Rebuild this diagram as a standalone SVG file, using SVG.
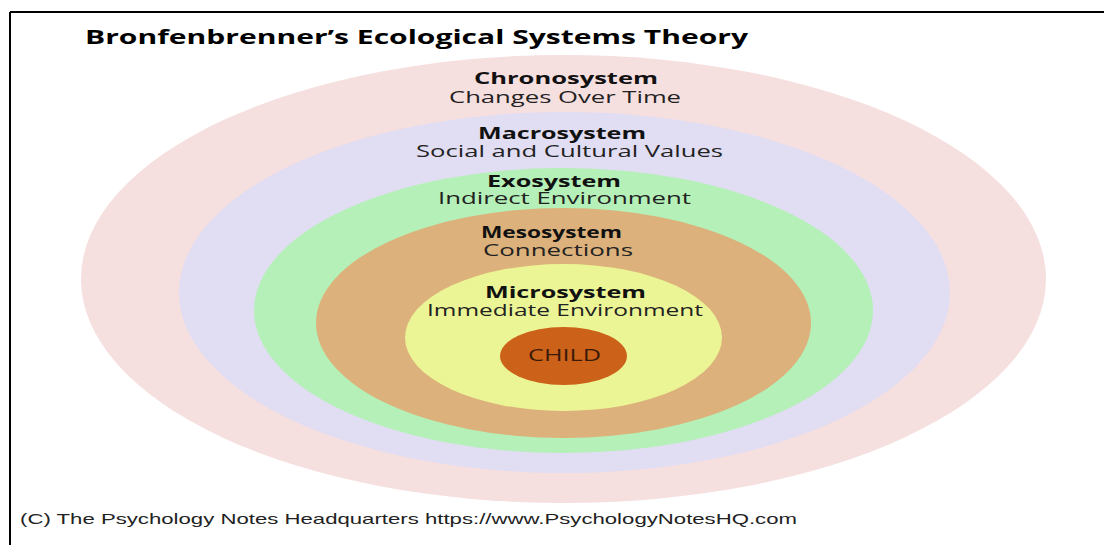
<svg xmlns="http://www.w3.org/2000/svg" width="1104" height="545" viewBox="0 0 1104 545">
  <style>
    .h { font-family: "Open Sans", "Liberation Sans", sans-serif; font-weight: 700; font-size: 16px; fill: #111; }
    .s { font-family: "Open Sans", "Liberation Sans", sans-serif; font-weight: 400; font-size: 16px; fill: #222; }
    .title { font-family: "Open Sans", "Liberation Sans", sans-serif; font-weight: 700; font-size: 20px; fill: #000; }
    .foot { font-family: "Liberation Sans", Arial, sans-serif; font-size: 15px; fill: #222; }
  </style>
  <rect x="0" y="0" width="1104" height="545" fill="#ffffff"/>
  <line x1="10" y1="12" x2="1104" y2="12" stroke="#000" stroke-width="2"/>
  <line x1="10" y1="12" x2="10" y2="545" stroke="#000" stroke-width="2"/>
  <text class="title" x="85" y="44" textLength="663" lengthAdjust="spacingAndGlyphs">Bronfenbrenner’s Ecological Systems Theory</text>

  <g id="chronosystem">
    <ellipse cx="563.5" cy="279" rx="482.5" ry="224" fill="#f6dfdf"/>
    <text class="h" x="474" y="84" textLength="184" lengthAdjust="spacingAndGlyphs">Chronosystem</text>
    <text class="s" x="449" y="103" textLength="232" lengthAdjust="spacingAndGlyphs">Changes Over Time</text>
  </g>
  <g id="macrosystem">
    <ellipse cx="564.5" cy="292.5" rx="385.5" ry="180.5" fill="#e1ddf2"/>
    <text class="h" x="478" y="139" textLength="168" lengthAdjust="spacingAndGlyphs">Macrosystem</text>
    <text class="s" x="416" y="157" textLength="307" lengthAdjust="spacingAndGlyphs">Social and Cultural Values</text>
  </g>
  <g id="exosystem">
    <ellipse cx="563.5" cy="310.5" rx="309.5" ry="142.5" fill="#b4f0b7"/>
    <text class="h" x="487" y="187" textLength="134" lengthAdjust="spacingAndGlyphs">Exosystem</text>
    <text class="s" x="438" y="204" textLength="253" lengthAdjust="spacingAndGlyphs">Indirect Environment</text>
  </g>
  <g id="mesosystem">
    <ellipse cx="563.5" cy="323" rx="247.5" ry="115" fill="#dcb17b"/>
    <text class="h" x="481" y="238" textLength="141" lengthAdjust="spacingAndGlyphs">Mesosystem</text>
    <text class="s" x="483" y="256" textLength="150" lengthAdjust="spacingAndGlyphs">Connections</text>
  </g>
  <g id="microsystem">
    <ellipse cx="563.5" cy="337.5" rx="158.5" ry="73.5" fill="#ecf595"/>
    <text class="h" x="485" y="298" textLength="161" lengthAdjust="spacingAndGlyphs">Microsystem</text>
    <text class="s" x="427" y="316" textLength="276" lengthAdjust="spacingAndGlyphs">Immediate Environment</text>
  </g>
  <g id="child">
    <ellipse cx="563.5" cy="356" rx="63.5" ry="29" fill="#cc6119"/>
    <text class="s" x="528" y="361" textLength="73" lengthAdjust="spacingAndGlyphs" style="fill:#3a1a08">CHILD</text>
  </g>
  <g id="connectors"/>

  <text class="foot" x="20" y="524" textLength="777" lengthAdjust="spacingAndGlyphs">(C) The Psychology Notes Headquarters https://www.PsychologyNotesHQ.com</text>
</svg>
